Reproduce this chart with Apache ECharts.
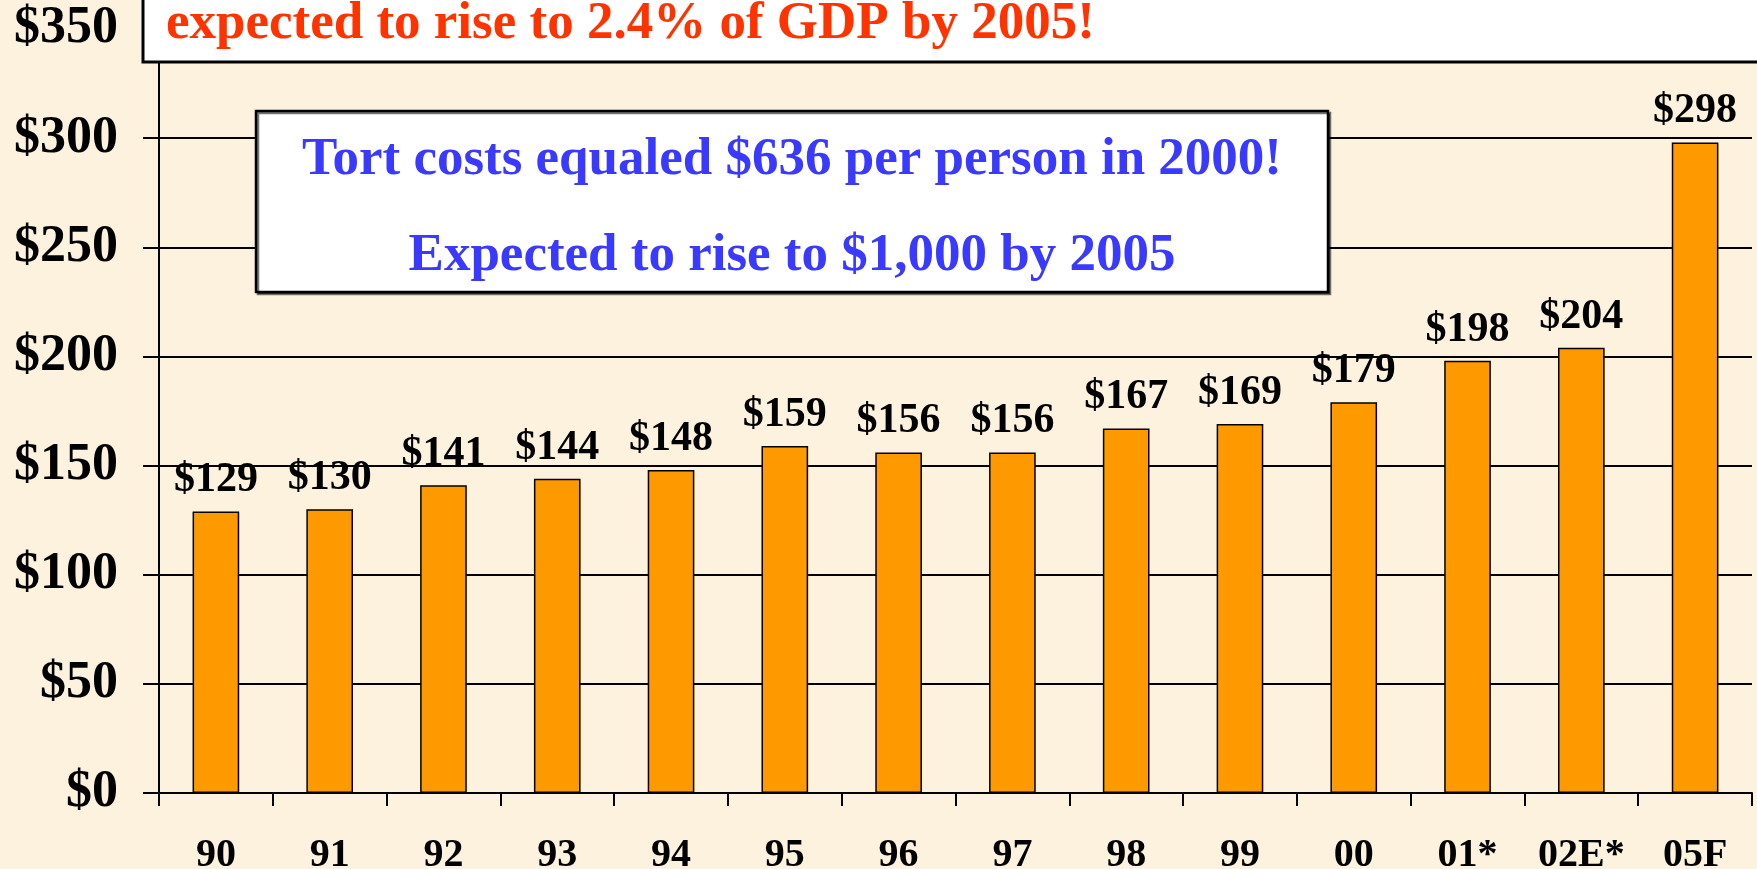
<!DOCTYPE html>
<html>
<head>
<meta charset="utf-8">
<title>Tort costs</title>
<script src="https://cdn.jsdelivr.net/npm/echarts@6/dist/echarts.min.js"></script>
<style>
  html, body {
    margin: 0;
    padding: 0;
    background: #fcf2dd;
  }
  #chart {
    width: 1757px;
    height: 869px;
  }
</style>
</head>
<body>
<div id="chart"></div>
<script>
// years (x axis) and tort costs in $ billions
var categories = ["90", "91", "92", "93", "94", "95", "96", "97", "98", "99", "00", "01*", "02E*", "05F"];
var tortCosts = [129, 130, 141, 144, 148, 159, 156, 156, 167, 169, 179, 198, 204, 298];

var headline = "expected to rise to 2.4% of GDP by 2005!";
var noteLines = ["Tort costs equaled $636 per person in 2000!", "Expected to rise to $1,000 by 2005"];

var serif = "'Liberation Serif', 'Times New Roman', serif";

var dom = echarts.init(document.getElementById("chart"));

var option = {
  backgroundColor: "transparent",
  animation: false,
  grid: {
    left: 159,
    right: 5,
    top: 29,
    bottom: 76,
    outerBoundsMode: "none"
  },
  xAxis: {
    type: "category",
    data: categories,
    axisLine: { show: true, lineStyle: { color: "#000", width: 2 } },
    axisTick: { show: true, length: 13, lineStyle: { color: "#000", width: 2 } },
    axisLabel: {
      margin: 43,
      color: "#000",
      fontFamily: serif,
      fontWeight: "bold",
      fontSize: 40
    }
  },
  yAxis: {
    type: "value",
    min: 0,
    max: 350,
    interval: 50,
    axisLine: { show: true, lineStyle: { color: "#000", width: 2 } },
    axisTick: { show: true, length: 16, lineStyle: { color: "#000", width: 2 } },
    splitLine: { show: true, lineStyle: { color: "#000", width: 2 } },
    axisLabel: {
      margin: 41,
      formatter: "${value}",
      color: "#000",
      fontFamily: serif,
      fontWeight: "bold",
      fontSize: 52
    }
  },
  series: [
    {
      type: "bar",
      data: tortCosts,
      barWidth: "41%",
      itemStyle: {
        color: "#ff9900",
        borderColor: "#000",
        borderWidth: 1.5
      },
      label: {
        show: true,
        position: "top",
        distance: 10,
        formatter: "${c}",
        color: "#000",
        fontFamily: serif,
        fontWeight: "bold",
        fontSize: 42
      }
    }
  ],
  graphic: [
    {
      type: "rect",
      z: 100,
      shape: { x: 143, y: -10, width: 1640, height: 72 },
      style: { fill: "#fff", stroke: "#000", lineWidth: 3 }
    },
    {
      type: "text",
      z: 101,
      x: 166,
      y: 24,
      style: {
        text: headline,
        fill: "#ff3300",
        font: "bold 53px " + serif,
        textAlign: "left",
        textVerticalAlign: "middle"
      }
    },
    {
      type: "rect",
      z: 100,
      shape: { x: 256, y: 111, width: 1072, height: 181 },
      style: {
        fill: "#fff",
        stroke: "#000",
        lineWidth: 2.5,
        shadowColor: "rgba(0,0,0,0.55)",
        shadowOffsetX: 2,
        shadowOffsetY: 2,
        shadowBlur: 0
      }
    },
    {
      type: "text",
      z: 101,
      x: 792,
      y: 160,
      style: {
        text: noteLines[0],
        fill: "#3939ff",
        font: "bold 53px " + serif,
        textAlign: "center",
        textVerticalAlign: "middle"
      }
    },
    {
      type: "text",
      z: 101,
      x: 792,
      y: 256,
      style: {
        text: noteLines[1],
        fill: "#3939ff",
        font: "bold 53px " + serif,
        textAlign: "center",
        textVerticalAlign: "middle"
      }
    }
  ]
};

dom.setOption(option);
window.addEventListener("resize", function () {
  dom.resize();
});
</script>
</body>
</html>
